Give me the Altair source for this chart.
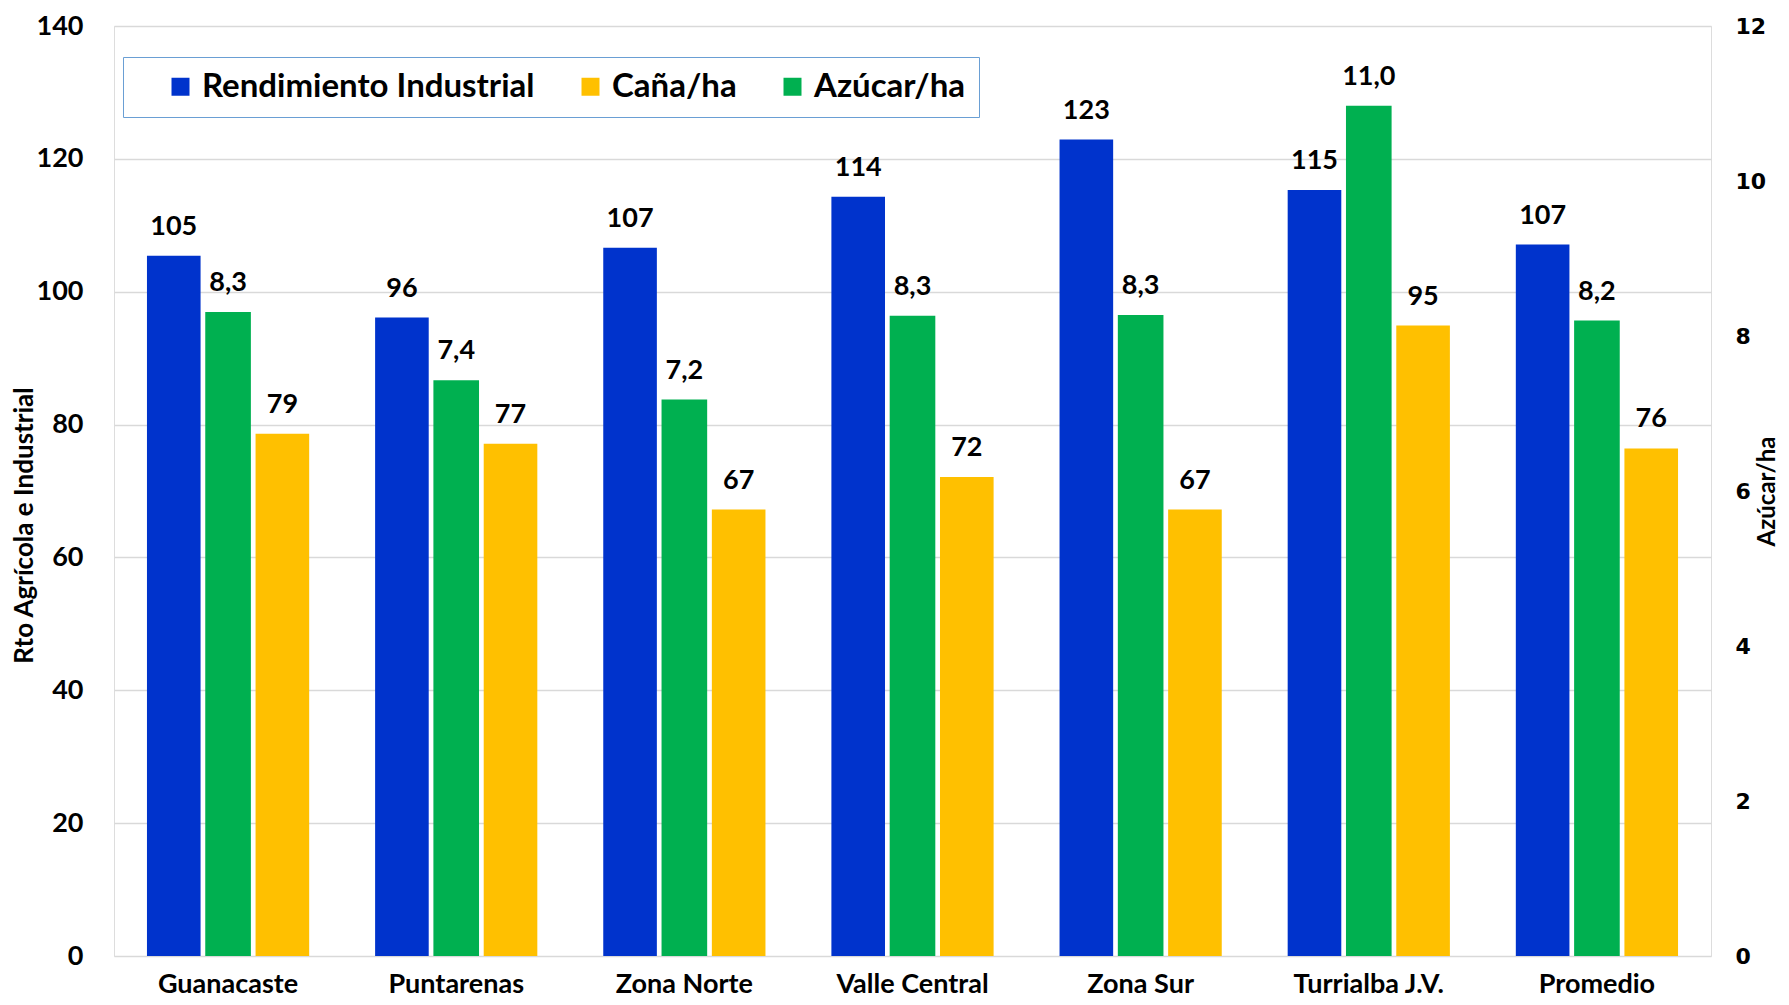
import altair as alt
import pandas as pd

categorias = ["Guanacaste", "Puntarenas", "Zona Norte", "Valle Central",
              "Zona Sur", "Turrialba J.V.", "Promedio"]
rend_industrial = [105.4, 96.1, 106.6, 114.3, 122.9, 115.3, 107.1]
cana_ha = [78.6, 77.1, 67.2, 72.1, 67.2, 94.9, 76.4]
azucar_ha = [8.31, 7.43, 7.18, 8.26, 8.27, 10.97, 8.20]
series = ["Rendimiento Industrial", "Caña/ha", "Azúcar/ha"]
colores = ["#0033CC", "#FFC000", "#00B050"]
titulo = "Rendimiento Agrícola e Industrial según Región. Zafra 2013-2014."

rows = []
for i, reg in enumerate(categorias):
    rows.append({"region": reg, "serie": series[0], "valor": rend_industrial[i],
                 "etiqueta": f"{rend_industrial[i]:.0f}"})
    rows.append({"region": reg, "serie": series[1], "valor": cana_ha[i],
                 "etiqueta": f"{cana_ha[i]:.0f}"})
    rows.append({"region": reg, "serie": series[2], "valor": azucar_ha[i],
                 "etiqueta": f"{azucar_ha[i]:.1f}".replace(".", ",")})
df = pd.DataFrame(rows)

FONT = "Lato"
base = alt.Chart(df)

x_enc = alt.X(
    "region:N", sort=categorias,
    scale=alt.Scale(paddingInner=0, paddingOuter=0),
    axis=alt.Axis(title=None, labelAngle=0, labelFont=FONT, labelFontSize=27,
                  labelFontWeight="bold", labelColor="black", ticks=False,
                  domain=False, labelPadding=36, labelBaseline="alphabetic"),
)
color_enc = alt.Color(
    "serie:N",
    scale=alt.Scale(domain=series, range=colores),
    legend=alt.Legend(
        title=None, orient="none", direction="horizontal", legendX=9, legendY=31,
        symbolType="square", symbolSize=324, symbolStrokeWidth=0, symbolOffset=28,
        labelFont=FONT, labelFontSize=33, labelFontWeight="bold", labelColor="black",
        labelOffset=5, columnPadding=11, padding=13, strokeColor="#6A9FD4",
        fillColor="white", labelLimit=500,
    ),
)
y_left = alt.Y(
    "valor:Q",
    scale=alt.Scale(domain=[0, 140], nice=False),
    axis=alt.Axis(values=list(range(0, 141, 20)), title="Rto Agrícola e Industrial",
                  titleFont=FONT, titleFontSize=26, titleFontWeight="bold",
                  titleColor="black", titleX=-90, titleY=499, titleBaseline="middle",
                  labelFont=FONT, labelFontSize=27, labelFontWeight="bold",
                  labelColor="black", labelPadding=31, ticks=False, domain=False,
                  grid=True, gridColor="#D9D9D9", gridWidth=1.5),
)
y_right = alt.Y(
    "valor:Q",
    scale=alt.Scale(domain=[0, 12], nice=False),
    axis=alt.Axis(orient="right", values=list(range(0, 13, 2)), title="Azúcar/ha",
                  titleFont=FONT, titleFontSize=24, titleFontWeight="bold",
                  titleColor="black", titlePadding=14, titleAngle=270,
                  labelFont="DejaVu Sans", labelFontSize=22, labelFontWeight="bold",
                  labelColor="black", labelPadding=24, ticks=False, domain=False,
                  grid=False),
)


def serie_layers(serie, y, band, offset):
    d = base.transform_filter(alt.datum.serie == serie)
    b = d.mark_bar(width=alt.RelativeBandSize(band), xOffset=offset).encode(
        x=x_enc, y=y, color=color_enc)
    t = d.mark_text(xOffset=offset, dy=-21, baseline="alphabetic", align="center",
                    font=FONT, fontWeight="bold", fontSize=27, color="black").encode(
        x=x_enc, y=y, text="etiqueta:N")
    return b, t


b1, t1 = serie_layers(series[0], y_left, 0.235, -54.3)
b2, t2 = serie_layers(series[1], y_left, 0.235, 54.3)
b3, t3 = serie_layers(series[2], y_right, 0.2, 0)

left = alt.layer(b1, b2, t1, t2)
right = alt.layer(b3, t3)

chart = alt.layer(left, right).resolve_scale(y="independent").properties(
    width=1597, height=930,
    autosize=alt.AutoSizeParams(type="none"),
    padding={"left": 106, "top": 18, "right": 70, "bottom": 41},
    title=alt.TitleParams(text=titulo, font=FONT, fontSize=30, fontWeight="bold",
                          color="black", anchor="middle", offset=-8,
                          baseline="alphabetic"),
).configure_view(stroke="#6A9FD4", strokeWidth=1.5).configure(background="white")

chart.save("out.html", embed_options={"renderer": "svg", "actions": False})
